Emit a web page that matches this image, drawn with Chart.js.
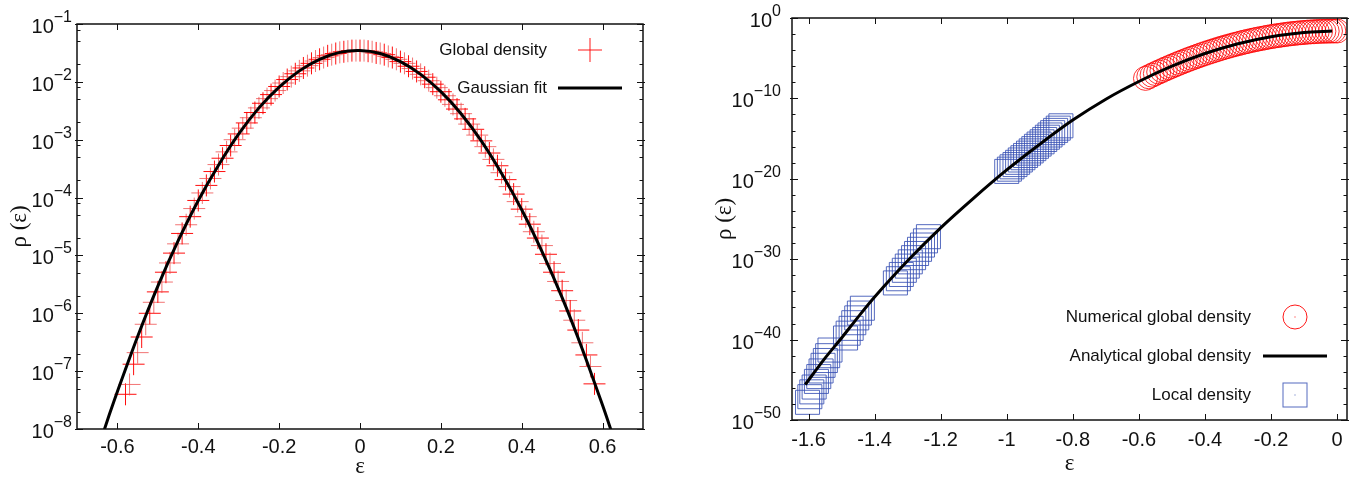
<!DOCTYPE html>
<html>
<head>
<meta charset="utf-8">
<title>Global and local density</title>
<script src="https://cdn.jsdelivr.net/npm/chart.js@4.4.1/dist/chart.umd.min.js"></script>
<style>
  html, body { margin: 0; padding: 0; background: #fff; }
  #wrap { position: relative; width: 1365px; height: 481px; overflow: hidden; }
  .panel { position: absolute; top: 0; }
  #panel-left { left: 0; }
  #panel-right { left: 690px; }
</style>
</head>
<body>
<div id="wrap">
  <div class="panel" id="panel-left"><canvas id="chart-left" width="680" height="481"></canvas></div>
  <div class="panel" id="panel-right"><canvas id="chart-right" width="675" height="481"></canvas></div>
</div>
<script>
// ---- Left panel data (rho values stored as log10) ----
var leftEpsTicks = [-0.6, -0.4, -0.2, 0, 0.2, 0.4, 0.6];
var leftRhoTicks = [1e-8, 1e-7, 1e-6, 1e-5, 1e-4, 1e-3, 1e-2, 1e-1];

var globalEps = [
  -0.58, -0.57, -0.56, -0.55, -0.54, -0.53, -0.52, -0.51, -0.50, -0.49,
  -0.48, -0.47, -0.46, -0.45, -0.44, -0.43, -0.42, -0.41, -0.40, -0.39,
  -0.38, -0.37, -0.36, -0.35, -0.34, -0.33, -0.32, -0.31, -0.30, -0.29,
  -0.28, -0.27, -0.26, -0.25, -0.24, -0.23, -0.22, -0.21, -0.20, -0.19,
  -0.18, -0.17, -0.16, -0.15, -0.14, -0.13, -0.12, -0.11, -0.10, -0.09,
  -0.08, -0.07, -0.06, -0.05, -0.04, -0.03, -0.02, -0.01, 0.00, 0.01,
  0.02, 0.03, 0.04, 0.05, 0.06, 0.07, 0.08, 0.09, 0.10, 0.11,
  0.12, 0.13, 0.14, 0.15, 0.16, 0.17, 0.18, 0.19, 0.20, 0.21,
  0.22, 0.23, 0.24, 0.25, 0.26, 0.27, 0.28, 0.29, 0.30, 0.31,
  0.32, 0.33, 0.34, 0.35, 0.36, 0.37, 0.38, 0.39, 0.40, 0.41,
  0.42, 0.43, 0.44, 0.45, 0.46, 0.47, 0.48, 0.49, 0.50, 0.51,
  0.52, 0.53, 0.54, 0.55, 0.56, 0.57, 0.58
];
var globalLogRho = [
  -7.40, -7.23, -6.88, -6.68, -6.41, -6.19, -6.00, -5.81, -5.63, -5.46,
  -5.29, -5.13, -4.96, -4.80, -4.62, -4.47, -4.33, -4.19, -4.05, -3.92,
  -3.79, -3.67, -3.55, -3.43, -3.32, -3.21, -3.10, -3.00, -2.90, -2.80,
  -2.71, -2.62, -2.53, -2.45, -2.37, -2.29, -2.22, -2.15, -2.08, -2.02,
  -1.96, -1.91, -1.86, -1.81, -1.76, -1.72, -1.68, -1.64, -1.61, -1.58,
  -1.55, -1.53, -1.51, -1.49, -1.48, -1.47, -1.46, -1.46, -1.46, -1.46,
  -1.47, -1.48, -1.50, -1.51, -1.53, -1.56, -1.58, -1.61, -1.65, -1.68,
  -1.73, -1.77, -1.82, -1.87, -1.92, -1.98, -2.04, -2.10, -2.17, -2.24,
  -2.31, -2.39, -2.47, -2.55, -2.64, -2.73, -2.82, -2.92, -3.02, -3.12,
  -3.23, -3.34, -3.45, -3.57, -3.69, -3.81, -3.94, -4.07, -4.20, -4.33,
  -4.46, -4.59, -4.70, -4.83, -4.98, -5.14, -5.29, -5.45, -5.61, -5.78,
  -5.96, -6.12, -6.29, -6.51, -6.72, -6.92, -7.22
];

var fitEps = [-0.64, -0.62, -0.60, -0.55, -0.50, -0.45, -0.40, -0.35, -0.30, -0.25,
  -0.20, -0.15, -0.10, -0.05, 0.00, 0.05, 0.10, 0.15, 0.20, 0.25,
  0.30, 0.35, 0.40, 0.45, 0.50, 0.55, 0.60, 0.62, 0.64];
var fitLogRho = [-8.17, -7.75, -7.35, -6.40, -5.53, -4.75, -4.05, -3.44, -2.90, -2.45,
  -2.09, -1.81, -1.61, -1.49, -1.46, -1.51, -1.65, -1.87, -2.17, -2.55,
  -3.02, -3.58, -4.21, -4.93, -5.73, -6.62, -7.59, -8.00, -8.42];

// ---- Right panel data (rho values stored as log10) ----
var rightEpsTicks = [-1.6, -1.4, -1.2, -1, -0.8, -0.6, -0.4, -0.2, 0];
var rightRhoTicks = [1e-50, 1e-40, 1e-30, 1e-20, 1e-10, 1];

var numericEps = [
  -0.58, -0.57, -0.56, -0.55, -0.54, -0.53, -0.52, -0.51, -0.50, -0.49,
  -0.48, -0.47, -0.46, -0.45, -0.44, -0.43, -0.42, -0.41, -0.40, -0.39,
  -0.38, -0.37, -0.36, -0.35, -0.34, -0.33, -0.32, -0.31, -0.30, -0.29,
  -0.28, -0.27, -0.26, -0.25, -0.24, -0.23, -0.22, -0.21, -0.20, -0.19,
  -0.18, -0.17, -0.16, -0.15, -0.14, -0.13, -0.12, -0.11, -0.10, -0.09,
  -0.08, -0.07, -0.06, -0.05, -0.04, -0.03, -0.02, -0.01, 0.00
];
var numericLogRho = [
  -7.51, -7.31, -7.11, -6.91, -6.72, -6.54, -6.35, -6.17, -6.00, -5.82,
  -5.65, -5.49, -5.32, -5.16, -5.01, -4.86, -4.71, -4.56, -4.42, -4.28,
  -4.15, -4.02, -3.89, -3.76, -3.64, -3.53, -3.41, -3.30, -3.20, -3.09,
  -2.99, -2.90, -2.80, -2.71, -2.63, -2.55, -2.47, -2.39, -2.32, -2.25,
  -2.19, -2.13, -2.07, -2.01, -1.96, -1.92, -1.87, -1.83, -1.80, -1.76,
  -1.73, -1.71, -1.68, -1.66, -1.65, -1.64, -1.63, -1.62, -1.62
];

var analyticEps = [-1.61, -1.55, -1.50, -1.45, -1.40, -1.30, -1.20, -1.10, -1.00, -0.90,
  -0.80, -0.70, -0.60, -0.50, -0.40, -0.30, -0.20, -0.10, -0.015];
var analyticLogRho = [-45.6, -42.3, -39.8, -37.2, -34.7, -30.2, -26.1, -22.4, -18.9, -15.7,
  -12.7, -10.1, -7.9, -6.0, -4.42, -3.2, -2.32, -1.8, -1.62];

var localEps = [
  -1.603, -1.596, -1.590, -1.583, -1.576, -1.569, -1.562, -1.556, -1.549, -1.542, -1.535,
  -1.488, -1.480, -1.471, -1.463, -1.454, -1.446, -1.437,
  -1.337, -1.328, -1.319, -1.310, -1.301, -1.292, -1.282, -1.273, -1.264, -1.255, -1.246, -1.237,
  -1.000, -0.992, -0.984, -0.975, -0.967, -0.959, -0.951, -0.943, -0.934, -0.926, -0.918,
  -0.910, -0.902, -0.893, -0.885, -0.877, -0.869, -0.861, -0.852, -0.844, -0.836
];
var localLogRho = [
  -47.8, -47.1, -46.5, -45.9, -45.2, -44.6, -43.9, -43.2, -42.6, -42.0, -41.3,
  -39.8, -39.2, -38.6, -37.9, -37.3, -36.7, -36.1,
  -32.95, -32.43, -31.90, -31.38, -30.86, -30.33, -29.81, -29.29, -28.77, -28.24, -27.72, -27.20,
  -19.08, -18.80, -18.51, -18.23, -17.95, -17.66, -17.38, -17.10, -16.81, -16.53, -16.25,
  -15.96, -15.68, -15.40, -15.11, -14.83, -14.55, -14.26, -13.98, -13.70, -13.41
];

(function() {
  'use strict';

  var TICK_FONT = '20px "Liberation Sans"';
  var EXP_FONT = '16px "Liberation Sans"';
  var LEGEND_FONT = '17px "Liberation Sans"';
  var INK = '#111';
  var RED = 'rgba(255, 0, 0, 0.9)';
  var BLUE = 'rgba(55, 80, 180, 0.85)';

  /**
   * Pair x values with log10 values into chart points.
   */
  function toPoints(xs, logs) {
    return xs.map(function(x, i) {
      return {x: x, y: Math.pow(10, logs[i])};
    });
  }

  function fmtEps(v) {
    return String(Math.round(v * 10) / 10);
  }

  function strokeLine(ctx, x1, y1, x2, y2) {
    ctx.beginPath();
    ctx.moveTo(x1, y1);
    ctx.lineTo(x2, y2);
    ctx.stroke();
  }

  /**
   * Legend sample markers drawn like the data points.
   */
  function drawSample(ctx, kind, x, y) {
    ctx.save();
    if (kind === 'cross') {
      ctx.strokeStyle = RED;
      ctx.lineWidth = 1;
      strokeLine(ctx, x - 12, y, x + 12, y);
      strokeLine(ctx, x, y - 12, x, y + 12);
    } else if (kind === 'line') {
      ctx.strokeStyle = '#000';
      ctx.lineWidth = 3;
      strokeLine(ctx, x - 32, y, x + 32, y);
    } else if (kind === 'circle') {
      ctx.strokeStyle = RED;
      ctx.lineWidth = 1;
      ctx.beginPath();
      ctx.arc(x, y, 12, 0, Math.PI * 2);
      ctx.stroke();
      ctx.fillStyle = RED;
      ctx.fillRect(x - 0.5, y - 0.5, 1, 1);
    } else if (kind === 'square') {
      ctx.strokeStyle = BLUE;
      ctx.lineWidth = 1;
      ctx.strokeRect(x - 12, y - 12, 24, 24);
      ctx.fillStyle = BLUE;
      ctx.fillRect(x - 0.5, y - 0.5, 1, 1);
    }
    ctx.restore();
  }

  /**
   * Gnuplot-like frame: inward ticks, superscript y labels and a legend.
   */
  function framePlugin(cfg) {
    return {
      id: 'gnuplotFrame',
      afterDatasetsDraw: function(chart) {
        var ctx = chart.ctx;
        var area = chart.chartArea;
        var xs = chart.scales.x;
        var ys = chart.scales.y;

        ctx.save();
        ctx.strokeStyle = INK;
        ctx.lineWidth = 1;
        cfg.xTicks.forEach(function(v) {
          var px = Math.round(xs.getPixelForValue(v)) + 0.5;
          strokeLine(ctx, px, area.bottom, px, area.bottom - 6);
          strokeLine(ctx, px, area.top, px, area.top + 6);
        });
        cfg.yTicks.forEach(function(v) {
          var py = Math.round(ys.getPixelForValue(v)) + 0.5;
          strokeLine(ctx, area.left - 2, py, area.left + 6, py);
          strokeLine(ctx, area.right + 2, py, area.right - 6, py);
        });
        cfg.yMinor.forEach(function(v) {
          var py = Math.round(ys.getPixelForValue(v)) + 0.5;
          strokeLine(ctx, area.left, py, area.left + 3.5, py);
          strokeLine(ctx, area.right, py, area.right - 3.5, py);
        });
        ctx.lineWidth = 1.5;
        ctx.strokeRect(area.left, area.top, area.right - area.left, area.bottom - area.top);
        ctx.restore();
      },
      afterDraw: function(chart) {
        var ctx = chart.ctx;
        var area = chart.chartArea;
        var ys = chart.scales.y;

        ctx.save();
        ctx.fillStyle = INK;
        ctx.textBaseline = 'alphabetic';
        ctx.textAlign = 'left';
        cfg.yTicks.forEach(function(v) {
          var py = ys.getPixelForValue(v);
          var exp = String(Math.round(Math.log10(v))).replace('-', '\u2212');
          ctx.font = EXP_FONT;
          var wExp = ctx.measureText(exp).width;
          ctx.font = TICK_FONT;
          var wBase = ctx.measureText('10').width;
          var xr = area.left - cfg.labelGap;
          ctx.fillText('10', xr - wExp - wBase, py + 9);
          ctx.font = EXP_FONT;
          ctx.fillText(exp, xr - wExp, py - 2);
        });

        ctx.font = LEGEND_FONT;
        ctx.textAlign = 'right';
        ctx.textBaseline = 'middle';
        cfg.legend.forEach(function(item, i) {
          var y = cfg.legendTop + i * cfg.legendStep;
          ctx.fillStyle = INK;
          ctx.fillText(item.label, cfg.legendTextRight, y);
          drawSample(ctx, item.kind, cfg.legendSampleX, y);
        });
        ctx.restore();
      }
    };
  }

  function baseScales(opts) {
    return {
      x: {
        type: 'linear',
        min: opts.xMin,
        max: opts.xMax,
        afterBuildTicks: function(scale) {
          scale.ticks = opts.xTicks.map(function(v) { return {value: v}; });
        },
        afterFit: function(scale) { scale.height = opts.xHeight; },
        grid: {display: false, drawTicks: false},
        border: {display: false},
        ticks: {
          font: {family: 'Liberation Sans', size: 20},
          color: INK,
          padding: opts.xLabelPad,
          maxRotation: 0,
          autoSkip: false,
          callback: fmtEps
        },
        title: {
          display: true,
          text: 'ε',
          color: INK,
          font: {family: 'Liberation Serif', size: 23},
          padding: {top: 0, bottom: opts.xTitlePad}
        }
      },
      y: {
        type: 'logarithmic',
        min: opts.yMin,
        max: opts.yMax,
        afterBuildTicks: function(scale) {
          scale.ticks = opts.yTicks.map(function(v) { return {value: v}; });
        },
        afterFit: function(scale) { scale.width = opts.yWidth; },
        grid: {display: false, drawTicks: false},
        border: {display: false},
        ticks: {display: false},
        title: {
          display: true,
          text: 'ρ (ε)',
          color: INK,
          font: {family: 'Liberation Serif', size: 23},
          padding: {top: opts.yTitlePad, bottom: 0}
        }
      }
    };
  }

  function commonOptions(scales, padding) {
    return {
      responsive: false,
      animation: false,
      devicePixelRatio: 1,
      events: [],
      layout: {padding: padding},
      plugins: {legend: {display: false}, tooltip: {enabled: false}},
      scales: scales
    };
  }

  // Left: global density with Gaussian fit.
  var leftMinor = [];
  for (var e = -8; e < -1; e++) {
    [2, 5, 8].forEach(function(m) { leftMinor.push(m * Math.pow(10, e)); });
  }

  new Chart(document.getElementById('chart-left'), {
    type: 'scatter',
    data: {
      datasets: [
        {
          label: 'Gaussian fit',
          data: toPoints(fitEps, fitLogRho),
          showLine: true,
          borderColor: '#000',
          borderWidth: 3,
          pointRadius: 0,
          tension: 0.3,
          order: 0
        },
        {
          label: 'Global density',
          data: toPoints(globalEps, globalLogRho),
          pointStyle: 'cross',
          pointRadius: 11,
          pointBorderWidth: 1,
          pointBorderColor: function(c) {
            return c.dataIndex % 2 ? 'rgba(238, 70, 70, 0.75)' : 'rgba(255, 0, 0, 0.95)';
          },
          order: 1
        }
      ]
    },
    options: commonOptions(baseScales({
      xMin: -0.7, xMax: 0.7, xTicks: leftEpsTicks, xHeight: 52, xLabelPad: 6, xTitlePad: 0,
      yMin: 1e-8, yMax: 1e-1, yTicks: leftRhoTicks, yWidth: 77, yTitlePad: 6
    }), {left: 0, top: 24, right: 37, bottom: 0}),
    plugins: [framePlugin({
      xTicks: leftEpsTicks,
      yTicks: leftRhoTicks,
      yMinor: leftMinor,
      labelGap: 5,
      legend: [
        {label: 'Global density', kind: 'cross'},
        {label: 'Gaussian fit', kind: 'line'}
      ],
      legendTop: 50,
      legendStep: 38,
      legendTextRight: 547,
      legendSampleX: 590
    })]
  });

  // Right: numerical, analytical and local density.
  var rightMinor = [];
  for (var k = -48; k < 0; k += 2) {
    if (k % 10 !== 0) { rightMinor.push(Math.pow(10, k)); }
  }

  new Chart(document.getElementById('chart-right'), {
    type: 'scatter',
    data: {
      datasets: [
        {
          label: 'Analytical global density',
          data: toPoints(analyticEps, analyticLogRho),
          showLine: true,
          borderColor: '#000',
          borderWidth: 3,
          pointRadius: 0,
          tension: 0.3,
          order: 0
        },
        {
          label: 'Numerical global density',
          data: toPoints(numericEps, numericLogRho),
          pointStyle: 'circle',
          pointRadius: 12,
          pointBorderWidth: 1,
          pointBorderColor: 'rgba(255, 0, 0, 0.8)',
          pointBackgroundColor: 'rgba(0, 0, 0, 0)',
          order: 1
        },
        {
          label: 'Local density',
          data: toPoints(localEps, localLogRho),
          pointStyle: 'rect',
          pointRadius: 17,
          pointBorderWidth: 1,
          pointBorderColor: BLUE,
          pointBackgroundColor: 'rgba(0, 0, 0, 0)',
          order: 2
        }
      ]
    },
    options: commonOptions(baseScales({
      xMin: -1.65, xMax: 0.03, xTicks: rightEpsTicks, xHeight: 61, xLabelPad: 8, xTitlePad: 3,
      yMin: 1e-50, yMax: 1, yTicks: rightRhoTicks, yWidth: 102, yTitlePad: 21
    }), {left: 0, top: 15, right: 17, bottom: 0}),
    plugins: [framePlugin({
      xTicks: rightEpsTicks,
      yTicks: rightRhoTicks,
      yMinor: rightMinor,
      labelGap: 11,
      legend: [
        {label: 'Numerical global density', kind: 'circle'},
        {label: 'Analytical global density', kind: 'line'},
        {label: 'Local density', kind: 'square'}
      ],
      legendTop: 317,
      legendStep: 39,
      legendTextRight: 561,
      legendSampleX: 605
    })]
  });
})();
</script>
</body>
</html>
